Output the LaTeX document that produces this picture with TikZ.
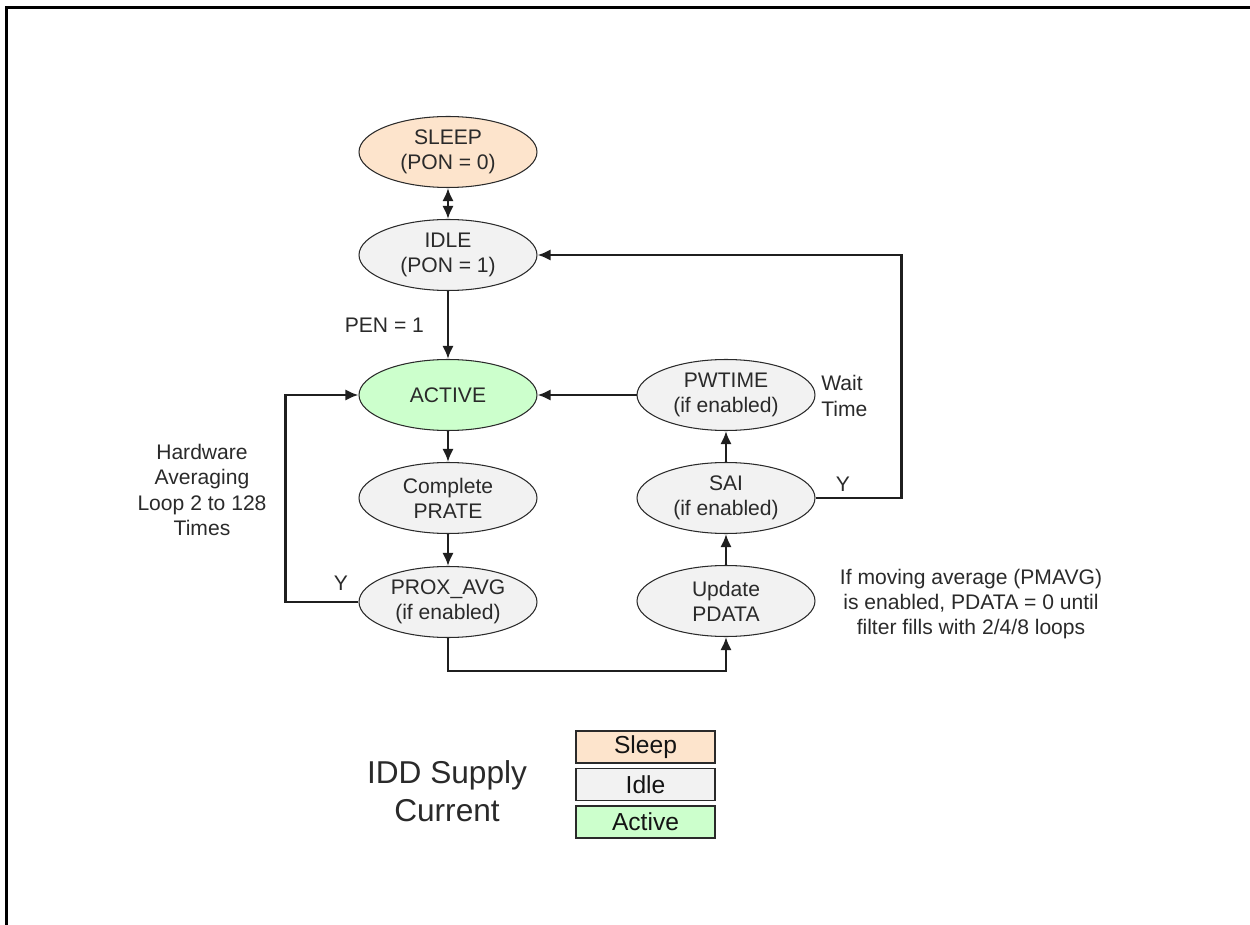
\documentclass[tikz,border=0pt]{standalone}
\usepackage{fontspec}
\setmainfont{Liberation Sans}
\usetikzlibrary{shapes.geometric,arrows.meta}
\definecolor{sleepfill}{HTML}{FDE4CC}
\definecolor{idlefill}{HTML}{F2F2F2}
\definecolor{activefill}{HTML}{CCFFCC}
\definecolor{inkgray}{HTML}{2A2A2A}
\begin{document}
\begin{tikzpicture}[
    x=0.02cm,
    y=-0.02cm,
    state/.style={
        ellipse,
        draw=inkgray,
        line width=0.6pt,
        minimum width=3.56cm,
        minimum height=1.42cm,
        inner sep=0pt,
        align=center,
        text=inkgray,
        font=\fontsize{12}{14.3}\selectfont
    },
    sleepstate/.style={state, fill=sleepfill},
    idlestate/.style={state, fill=idlefill},
    activestate/.style={state, fill=activefill},
    legendbox/.style={
        draw=inkgray,
        line width=1.1pt,
        minimum width=2.78cm,
        minimum height=0.64cm,
        inner sep=0pt,
        text=black!92,
        font=\fontsize{14}{16}\selectfont
    },
    note/.style={
        inner sep=0pt,
        align=center,
        text=inkgray,
        font=\fontsize{12}{14.3}\selectfont
    },
    flow/.style={
        line width=1.4pt,
        draw=black!88,
        -{Latex[length=7.5pt,width=6.5pt]}
    }
]
    \useasboundingbox (0,0) rectangle (1250,925);

    % --- Frame ---
    \draw[line width=1.5pt] (6.5,925) -- (6.5,7.5) -- (1250,7.5);

    % --- Left column ---
    \node[sleepstate] (sleep) at (448,152) {SLEEP\\(PON = 0)};
    \node[idlestate] (idle) at (448,255) {IDLE\\(PON = 1)};
    \node[activestate] (active) at (448,395) {ACTIVE};
    \node[idlestate] (prate) at (448,498) {Complete\\PRATE};
    \node[idlestate] (proxavg) at (448,602) {PROX\_AVG\\(if enabled)};

    % --- Right column ---
    \node[idlestate] (pwtime) at (726,395) {PWTIME\\(if enabled)};
    \node[idlestate] (sai) at (726,498) {SAI\\(if enabled)};
    \node[idlestate] (pdata) at (726,601) {Update\\PDATA};

    % --- Connectors ---
    \draw[flow, {Latex[length=7.5pt,width=6.5pt]}-{Latex[length=7.5pt,width=6.5pt]}] (sleep) -- (idle);
    \draw[flow] (idle) -- node[note, midway, left=13pt] (pen) {PEN = 1} (active);
    \draw[flow] (active) -- (prate);
    \draw[flow] (prate) -- (proxavg);
    \draw[flow] (proxavg.west) -- ++(-73,0) |- (active.west);
    \draw[flow] (proxavg.south) -- ++(0,33) -| (pdata.south);
    \draw[flow] (pdata) -- (sai);
    \draw[flow] (sai) -- (pwtime);
    \draw[flow] (pwtime) -- (active);
    \draw[flow] (sai.east) -- ++(86,0) |- (idle.east);

    % --- Labels ---
    \node[note] (yleft) at (341,583) {Y};
    \node[note] (yright) at (843,484) {Y};
    \node[note, anchor=west, align=left] (wait) at (821,396) {Wait\\Time};
    \node[note] (hwavg) at (202,490) {Hardware\\Averaging\\Loop 2 to 128\\Times};
    \node[note] (pmavg) at (971,604) {If moving average (PMAVG)\\is enabled, PDATA = 0 until\\filter fills with 2/4/8 loops};

    % --- Legend ---
    \node[note, font=\fontsize{18}{21.5}\selectfont] (idd) at (447,791) {IDD Supply\\Current};
    \node[legendbox, fill=sleepfill] (lsleep) at (645.5,747) {Sleep};
    \node[legendbox, fill=idlefill] (lidle) at (645.5,784.5) {Idle};
    \node[legendbox, fill=activefill] (lactive) at (645.5,822) {Active};
\end{tikzpicture}
\end{document}
